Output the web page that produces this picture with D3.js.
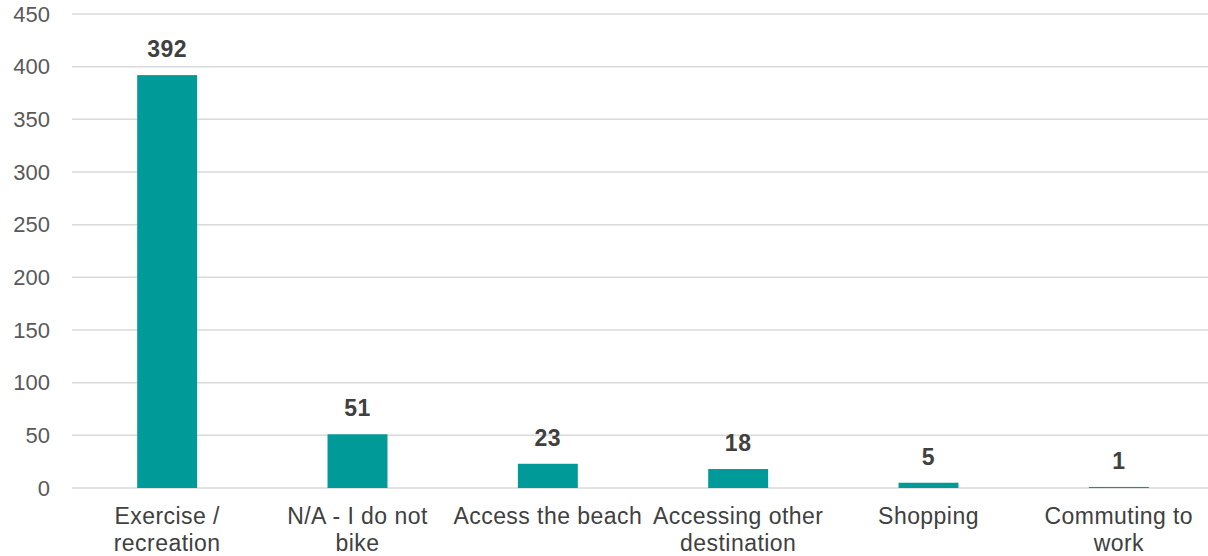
<!DOCTYPE html>
<html>
<head>
<meta charset="utf-8">
<script src="https://cdn.jsdelivr.net/npm/d3@7"></script>
<style>
  body { margin: 0; background: #fff; }
  svg { display: block; font-family: Arial, "Liberation Sans", sans-serif; }
</style>
</head>
<body>
<div class="chart"></div>
<script>
// chart data
var categories = ["Exercise /\nrecreation", "N/A - I do not\nbike", "Access the beach",
    "Accessing other\ndestination", "Shopping", "Commuting to\nwork"];
var counts = [392, 51, 23, 18, 5, 1];
var yTicks = [0, 50, 100, 150, 200, 250, 300, 350, 400, 450];

var svgWidth = 1208;
var svgHeight = 556;

var margin = {
    top: 14,
    right: 0,
    bottom: 68,
    left: 72
};

var width = svgWidth - margin.left - margin.right;
var height = svgHeight - margin.top - margin.bottom;
// the category area runs a little past the right edge of the picture
var bandWidth = 1142;

var svg = d3.select(".chart")
    .append("svg")
    .attr("width", svgWidth)
    .attr("height", svgHeight);

var chart = svg.append("g")
    .attr("transform", `translate(${margin.left},${margin.top})`);

var xScale = d3.scaleBand()
    .domain(categories)
    .range([0, bandWidth])
    .paddingInner(0.685)
    .paddingOuter(0.3425);

var yScale = d3.scaleLinear()
    .domain([0, 450])
    .range([height, 0]);

// gridlines
chart.selectAll(".grid")
    .data(yTicks)
    .enter()
    .append("line")
    .attr("class", "grid")
    .attr("x1", 0)
    .attr("x2", width)
    .attr("y1", function (d) { return yScale(d); })
    .attr("y2", function (d) { return yScale(d); })
    .attr("stroke", "#d9d9d9")
    .attr("stroke-width", 1.5);

// y axis labels
var yAxis = d3.axisLeft(yScale).tickValues(yTicks).tickSize(0).tickPadding(22);
chart.append("g")
    .attr("class", "y-axis")
    .call(yAxis)
    .call(function (g) { g.select(".domain").remove(); })
    .selectAll("text")
    .attr("font-size", "22px")
    .attr("font-family", "Arial, 'Liberation Sans', sans-serif")
    .attr("fill", "#595959");

// bars
chart.selectAll(".bar")
    .data(counts)
    .enter()
    .append("rect")
    .attr("class", "bar")
    .attr("x", function (d, i) { return xScale(categories[i]); })
    .attr("y", function (d) { return yScale(d); })
    .attr("width", xScale.bandwidth())
    .attr("height", function (d) { return height - yScale(d); })
    .attr("fill", "#009b99");

// value labels
chart.selectAll(".value")
    .data(counts)
    .enter()
    .append("text")
    .attr("class", "value")
    .text(function (d) { return d; })
    .attr("x", function (d, i) { return xScale(categories[i]) + xScale.bandwidth() / 2; })
    .attr("y", function (d) { return yScale(d) - 18; })
    .attr("text-anchor", "middle")
    .attr("font-size", "23px")
    .attr("letter-spacing", "0.5px")
    .attr("font-weight", "bold")
    .attr("fill", "#404040");

// category labels
var catLabels = chart.selectAll(".cat")
    .data(categories)
    .enter()
    .append("text")
    .attr("class", "cat")
    .attr("x", function (d) { return xScale(d) + xScale.bandwidth() / 2; })
    .attr("y", height + 36)
    .attr("text-anchor", "middle")
    .attr("font-size", "23px")
    .attr("letter-spacing", "0.45px")
    .attr("fill", "#404040");

catLabels.each(function (d) {
    var lines = d.split("\n");
    var t = d3.select(this);
    lines.forEach(function (line, i) {
        t.append("tspan")
            .attr("x", t.attr("x"))
            .attr("dy", i === 0 ? 0 : 26.5)
            .text(line);
    });
});
</script>
</body>
</html>
